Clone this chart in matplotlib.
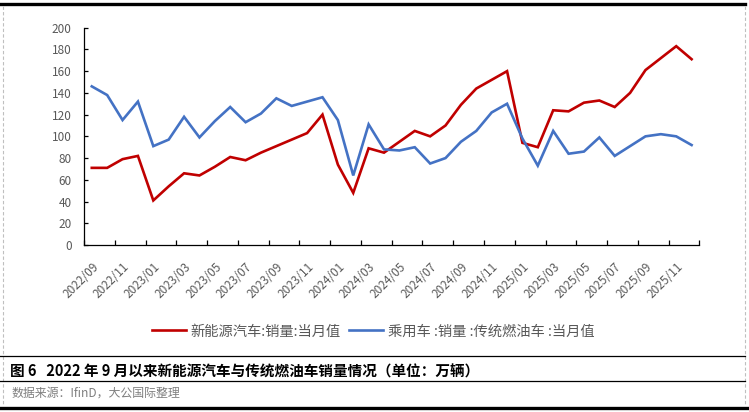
import matplotlib
matplotlib.use("Agg")
import matplotlib.pyplot as plt
from matplotlib.lines import Line2D
import numpy as np

plt.rcParams['font.family'] = ['Noto Sans CJK SC', 'DejaVu Sans']

# ---- data ----
months = []
for y in (2022, 2023, 2024, 2025):
    for m in range(1, 13):
        if (y == 2022 and m < 9):
            continue
        months.append(f"{y}/{m:02d}")

nev_sales = [71, 71, 79, 82, 41, 54, 66, 64, 72, 81, 78, 85, 91, 97, 103, 120,
             74, 48, 89, 85, 95, 105, 100, 110, 129, 144, 152, 160,
             94, 90, 124, 123, 131, 133, 127, 140, 161, 172, 183, 171]
ice_sales = [146, 138, 115, 132, 91, 97, 118, 99, 114, 127, 113, 121, 135, 128, 132, 136,
             115, 64, 111, 88, 87, 90, 75, 80, 95, 105, 122, 130,
             98, 73, 105, 84, 86, 99, 82, 91, 100, 102, 100, 92]

series_names = ["新能源汽车:销量:当月值", "乘用车 :销量 :传统燃油车 :当月值"]
caption = "图 6   2022 年 9 月以来新能源汽车与传统燃油车销量情况（单位：万辆）"
source = "数据来源：IfinD，大公国际整理"

W, H = 749, 412
fig = plt.figure(figsize=(W / 100, H / 100), dpi=100)

def fx(px):
    return px / W

def fy(py):
    return 1 - py / H

ax = fig.add_axes([fx(84.1), fy(245), fx(699.3) - fx(84.1), fy(27.7) - fy(245)])

x = np.arange(len(months))
red = "#C00000"
blue = "#4472C4"
l1, = ax.plot(x, nev_sales, color=red, lw=1.9, solid_joinstyle='miter')
l2, = ax.plot(x, ice_sales, color=blue, lw=1.9, solid_joinstyle='miter')

ax.set_xlim(-0.5, len(months) - 0.5)
ax.set_ylim(0, 200)
ax.set_yticks(np.arange(0, 201, 20))

for s in ("top", "right"):
    ax.spines[s].set_visible(False)
for s in ("left", "bottom"):
    ax.spines[s].set_linewidth(0.9)
    ax.spines[s].set_color("black")

gray = "#595959"
ax.tick_params(axis='y', direction='in', length=3.2, width=0.9, pad=9,
               labelsize=8.5, labelcolor=gray)
ax.set_xticks(np.arange(-0.5, len(months), 2))
ax.set_xticklabels([])
ax.tick_params(axis='x', which='major', direction='in', length=3.8, width=0.9)
ax.set_xticks(x[::2], minor=True)
ax.set_xticklabels(months[::2], minor=True, rotation=45, ha='right', va='top',
                   rotation_mode='anchor', fontsize=8.5, color=gray)
ax.tick_params(axis='x', which='minor', length=0, pad=11)

fig.legend([l1, l2], series_names, loc='center', bbox_to_anchor=(fx(373), fy(331.5)),
           ncol=2, frameon=False, fontsize=10.3, handlelength=2.4, handletextpad=0.3,
           columnspacing=0.6, labelcolor=gray)

# frame decorations
fig.add_artist(Line2D([0, fx(745)], [fy(4.3), fy(4.3)], color='black', lw=2.4))
fig.add_artist(Line2D([fx(2.5), fx(2.5)], [fy(6), fy(405)], color='#BFBFBF', lw=0.8, ls=(0, (3, 2))))
fig.add_artist(Line2D([fx(745), fx(745)], [fy(6), fy(405)], color='#BFBFBF', lw=0.8, ls=(0, (3, 2))))
fig.add_artist(Line2D([0, fx(745)], [fy(356), fy(356)], color='black', lw=0.9))
fig.add_artist(Line2D([0, fx(745)], [fy(381), fy(381)], color='black', lw=0.9))
fig.add_artist(Line2D([0, 1], [fy(408), fy(408)], color='black', lw=2.4))

fig.text(fx(10), fy(371.5), caption, fontsize=10.5, fontweight='bold', color='black',
         ha='left', va='center')
fig.text(fx(11), fy(393.5), source, fontsize=8.6, color='#7F7F7F', ha='left', va='center')

fig.savefig("out.png", dpi=100)
